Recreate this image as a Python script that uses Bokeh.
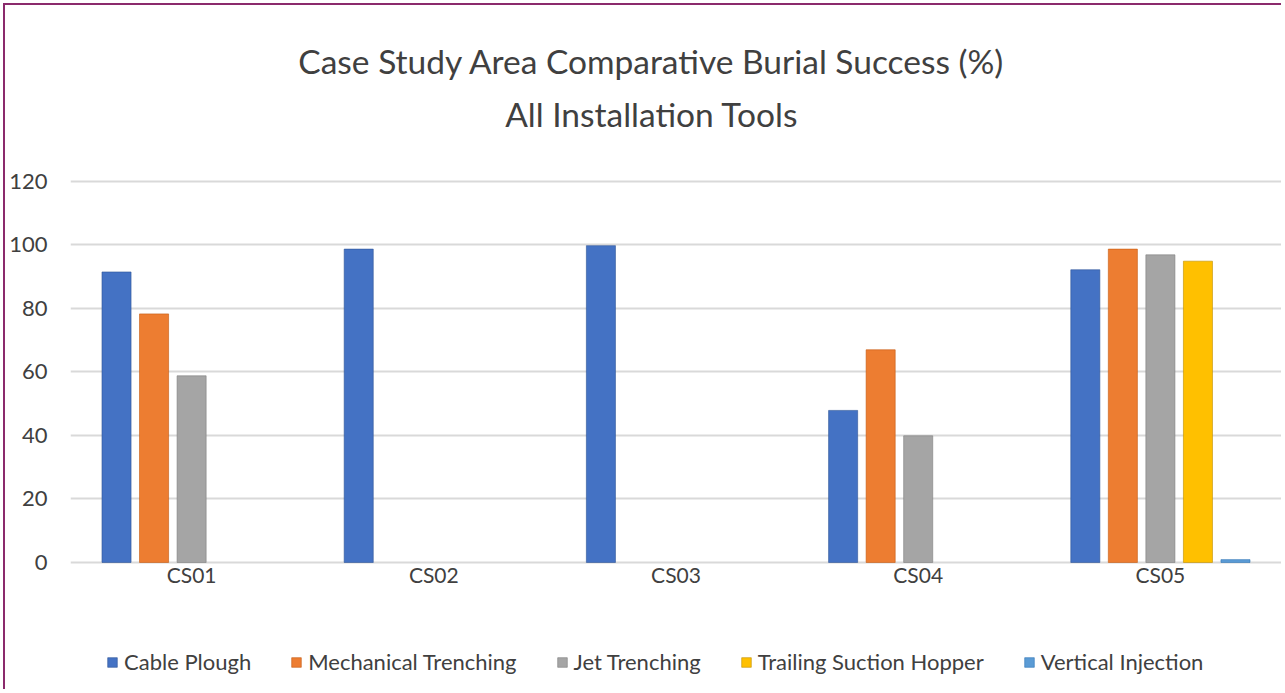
from bokeh.plotting import figure
from bokeh.models import FactorRange, Range1d, ColumnDataSource, Legend, LegendItem, Label, FixedTicker
from bokeh.transform import dodge
from bokeh.core.properties import value
from bokeh.embed import file_html
from bokeh.resources import INLINE

# ---- data ----
categories = ["CS01", "CS02", "CS03", "CS04", "CS05"]
cable_plough = [91.5, 98.7, 99.8, 47.9, 92.2]
mechanical_trenching = [78.3, 0, 0, 67.0, 98.7]
jet_trenching = [58.8, 0, 0, 39.9, 96.9]
trailing_suction_hopper = [0, 0, 0, 0, 94.9]
vertical_injection = [0, 0, 0, 0, 0.9]
series_names = ["Cable Plough", "Mechanical Trenching", "Jet Trenching",
                "Trailing Suction Hopper", "Vertical Injection"]
y_ticks = [0, 20, 40, 60, 80, 100, 120]
title_lines = ["Case Study Area Comparative Burial Success (%)", "All Installation Tools"]

colors = ["#4472C4", "#ED7D31", "#A5A5A5", "#FFC000", "#5B9BD5"]
edges = ["#2F5597", "#C55A11", "#7F7F7F", "#BF9000", "#2E75B6"]
FONT = "Lato"
TXT = "#404040"


def blank_zero(vals):
    # empty cells in the source chart: draw nothing instead of a zero-height bar
    return [v if v != 0 else float("nan") for v in vals]


series = [cable_plough, mechanical_trenching, jet_trenching, trailing_suction_hopper, vertical_injection]
src = ColumnDataSource(dict(cat=categories, **{f"s{i}": blank_zero(s) for i, s in enumerate(series)}))

# frame spans the whole canvas height; 3.175 px per unit
p = figure(x_range=FactorRange(factors=categories, range_padding=0),
           y_range=Range1d(-40.63, 175.43), width=1278, height=686,
           output_backend="svg", toolbar_location=None,
           min_border_left=65, min_border_right=2, min_border_top=0, min_border_bottom=0)
p.styles = {"margin-left": "3px", "margin-top": "3px",
            "border-left": "2px solid #8B2A6C", "border-top": "2px solid #8B2A6C"}
p.outline_line_color = None
p.background_fill_color = "white"
p.border_fill_color = "white"

offsets = [-0.31, -0.155, 0.0, 0.155, 0.31]
renderers = []
for i, off in enumerate(offsets):
    r = p.vbar(x=dodge("cat", off, range=p.x_range), top=f"s{i}", bottom=0, width=0.12, source=src,
               fill_color=colors[i], line_color=edges[i], line_width=1, line_alpha=0.6)
    renderers.append(r)

# y axis (real axis, ticks only 0..120)
p.yaxis.ticker = FixedTicker(ticks=y_ticks)
p.yaxis.axis_line_color = None
p.yaxis.major_tick_line_color = None
p.yaxis.minor_tick_line_color = None
p.yaxis.major_label_standoff = 17
p.yaxis.major_label_text_font = FONT
p.yaxis.major_label_text_font_size = "22px"
p.yaxis.major_label_text_color = TXT

p.xaxis.visible = False
p.xgrid.grid_line_color = None
p.ygrid.grid_line_color = "#D9D9D9"
p.ygrid.grid_line_width = 2

# category labels below the baseline
p.text(x=categories, y=[-3.9] * len(categories), text=categories,
       text_align="center", text_baseline="middle",
       text_font=value(FONT), text_font_size="21px", text_color=TXT)

# title
for txt, yy in zip(title_lines, [158.1, 141.4]):
    p.add_layout(Label(x=2.4, y=yy, text=txt,
                       text_align="center", text_baseline="middle",
                       text_font=FONT, text_font_size="33.5px", text_color=TXT))

legend = Legend(items=[LegendItem(label=n, renderers=[r]) for n, r in zip(series_names, renderers)],
                orientation="horizontal", location=(36, 16),
                label_text_font=FONT, label_text_font_size="22px", label_text_color=TXT,
                glyph_width=12, glyph_height=12, label_standoff=6, spacing=39,
                padding=0, margin=0, border_line_color=None, background_fill_alpha=0)
p.add_layout(legend, "center")

open("out.html", "w").write(file_html(p, INLINE))
